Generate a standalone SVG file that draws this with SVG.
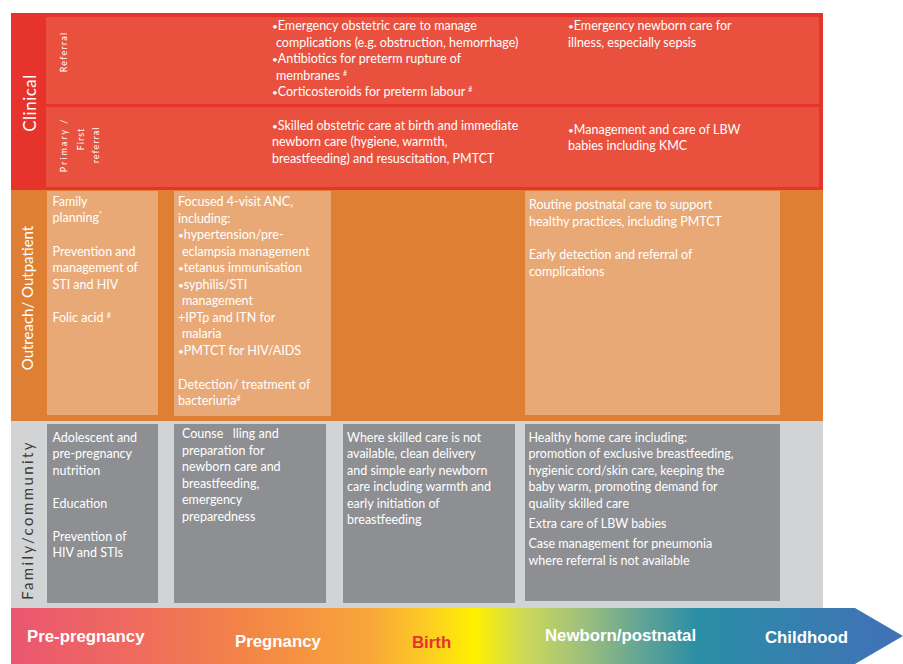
<svg xmlns="http://www.w3.org/2000/svg" width="903" height="664" viewBox="0 0 903 664">
<defs>
<linearGradient id="lifeGrad" gradientUnits="userSpaceOnUse" x1="11" y1="0" x2="903" y2="0">
<stop offset="0" stop-color="#ea5670"/>
<stop offset="0.14" stop-color="#ef6b5e"/>
<stop offset="0.26" stop-color="#f38447"/>
<stop offset="0.40" stop-color="#f8a53a"/>
<stop offset="0.47" stop-color="#fdcf22"/>
<stop offset="0.52" stop-color="#fff100"/>
<stop offset="0.575" stop-color="#cdd958"/>
<stop offset="0.64" stop-color="#9fc07c"/>
<stop offset="0.71" stop-color="#5fa396"/>
<stop offset="0.77" stop-color="#2a8ea5"/>
<stop offset="1" stop-color="#4270b8"/>
</linearGradient>
<style>
.t { font-family: Lato, "Liberation Sans", sans-serif; font-size: 12.5px; fill: #ffffff; }
.sup { font-size: 7px; }
.b { font-size: 10px; }
.rowlab { font-family: Lato, "Liberation Sans", sans-serif; fill: #ffffff; text-anchor: middle; }
.sub { font-family: Lato, "Liberation Sans", sans-serif; font-size: 9px; fill: #ffffff; text-anchor: middle; }
.stage { font-family: "Liberation Sans", Arial, sans-serif; font-size: 16.8px; font-weight: bold; fill: #ffffff; }
.redband { fill: #e6332c; }
.redbox { fill: #e9513e; }
.orband { fill: #de7f33; }
.orbox { fill: #e8a977; }
.gyband { fill: #d1d3d4; }
.gybox { fill: #8e8f93; }
</style>
</defs>

<!-- Clinical band -->
<g id="clinical">
<rect class="redband" x="11" y="13" width="812" height="177"/>
<text class="rowlab" font-size="17" letter-spacing="0.5" transform="translate(36,103) rotate(-90)">Clinical</text>
</g>
<g id="referral">
<rect class="redbox" x="46" y="17" width="773" height="87"/>
<text class="sub" letter-spacing="1.2" transform="translate(67,52) rotate(-90)">Referral</text>
<text class="t" x="272" y="30"><tspan class="b">•</tspan>Emergency obstetric care to manage</text>
<text class="t" x="276" y="46.5">complications (e.g. obstruction, hemorrhage)</text>
<text class="t" x="272" y="63"><tspan class="b">•</tspan>Antibiotics for preterm rupture of</text>
<text class="t" x="276" y="79.5">membranes <tspan class="sup" dy="-4">#</tspan></text>
<text class="t" x="272" y="96"><tspan class="b">•</tspan>Corticosteroids for preterm labour <tspan class="sup" dy="-4">#</tspan></text>
<text class="t" x="568" y="30"><tspan class="b">•</tspan>Emergency newborn care for</text>
<text class="t" x="568" y="46.5">illness, especially sepsis</text>
</g>
<g id="primary">
<rect class="redbox" x="46" y="107" width="773" height="80"/>
<text class="sub" letter-spacing="2" transform="translate(67,145) rotate(-90)">Primary /</text>
<text class="sub" letter-spacing="1" transform="translate(84,139) rotate(-90)">First</text>
<text class="sub" letter-spacing="1" transform="translate(99,145) rotate(-90)">referral</text>
<text class="t" x="272" y="129.5"><tspan class="b">•</tspan>Skilled obstetric care at birth and immediate</text>
<text class="t" x="272" y="146">newborn care (hygiene, warmth,</text>
<text class="t" x="272" y="162.5">breastfeeding) and resuscitation, PMTCT</text>
<text class="t" x="568" y="133.5"><tspan class="b">•</tspan>Management and care of LBW</text>
<text class="t" x="568" y="150">babies including KMC</text>
</g>

<!-- Outreach band -->
<g id="outreach">
<rect class="orband" x="11" y="190" width="812" height="231"/>
<text class="rowlab" font-size="15" transform="translate(33,298) rotate(-90)">Outreach/ Outpatient</text>
</g>
<g id="out-prepregnancy">
<rect class="orbox" x="47" y="191" width="111" height="224"/>
<text class="t" x="52.5" y="205.5">Family</text>
<text class="t" x="52.5" y="222">planning<tspan class="sup" dy="-5">*</tspan></text>
<text class="t" x="52.5" y="255.5">Prevention and</text>
<text class="t" x="52.5" y="272">management of</text>
<text class="t" x="52.5" y="288.5">STI and HIV</text>
<text class="t" x="52.5" y="321.5">Folic acid <tspan class="sup" dy="-4">#</tspan></text>
</g>
<g id="out-pregnancy">
<rect class="orbox" x="174" y="191" width="157" height="225"/>
<text class="t" x="178" y="206">Focused 4-visit ANC,</text>
<text class="t" x="178" y="222.5">including:</text>
<text class="t" x="178" y="239"><tspan class="b">•</tspan>hypertension/pre-</text>
<text class="t" x="182" y="255.5">eclampsia management</text>
<text class="t" x="178" y="272"><tspan class="b">•</tspan>tetanus immunisation</text>
<text class="t" x="178" y="288.5"><tspan class="b">•</tspan>syphilis/STI</text>
<text class="t" x="182" y="305">management</text>
<text class="t" x="178" y="321.5">+IPTp and ITN for</text>
<text class="t" x="182" y="338">malaria</text>
<text class="t" x="178" y="354.5"><tspan class="b">•</tspan>PMTCT for HIV/AIDS</text>
<text class="t" x="178" y="388.5">Detection/ treatment of</text>
<text class="t" x="178" y="405">bacteriuria<tspan class="sup" dy="-4">#</tspan></text>
</g>
<g id="out-postnatal">
<rect class="orbox" x="525" y="191" width="255" height="224"/>
<text class="t" x="529" y="209">Routine postnatal care to support</text>
<text class="t" x="529" y="225.5">healthy practices, including PMTCT</text>
<text class="t" x="529" y="259">Early detection and referral of</text>
<text class="t" x="529" y="275.5">complications</text>
</g>

<!-- Family/community band -->
<g id="family">
<rect class="gyband" x="11" y="421" width="812" height="187"/>
<text class="rowlab" font-size="15" letter-spacing="2.4" style="fill:#3a3a3a" transform="translate(33,520) rotate(-90)">Family/community</text>
</g>
<g id="fam-prepregnancy">
<rect class="gybox" x="47" y="424" width="111" height="179"/>
<text class="t" x="52.5" y="441.5">Adolescent and</text>
<text class="t" x="52.5" y="458">pre-pregnancy</text>
<text class="t" x="52.5" y="474.5">nutrition</text>
<text class="t" x="52.5" y="508">Education</text>
<text class="t" x="52.5" y="540.5">Prevention of</text>
<text class="t" x="52.5" y="557">HIV and STIs</text>
</g>
<g id="fam-pregnancy">
<rect class="gybox" x="174" y="424" width="152" height="179"/>
<text class="t" x="182" y="438" xml:space="preserve">Counse   lling and</text>
<text class="t" x="182" y="454.5">preparation for</text>
<text class="t" x="182" y="471">newborn care and</text>
<text class="t" x="182" y="487.5">breastfeeding,</text>
<text class="t" x="182" y="504">emergency</text>
<text class="t" x="182" y="520.5">preparedness</text>
</g>
<g id="fam-birth">
<rect class="gybox" x="343" y="424" width="172" height="179"/>
<text class="t" x="347" y="441.5">Where skilled care is not</text>
<text class="t" x="347" y="458">available, clean delivery</text>
<text class="t" x="347" y="474.5">and simple early newborn</text>
<text class="t" x="347" y="491">care including warmth and</text>
<text class="t" x="347" y="507.5">early initiation of</text>
<text class="t" x="347" y="524">breastfeeding</text>
</g>
<g id="fam-postnatal">
<rect class="gybox" x="525" y="424" width="255" height="177"/>
<text class="t" x="528.5" y="441.5">Healthy home care including:</text>
<text class="t" x="528.5" y="458">promotion of exclusive breastfeeding,</text>
<text class="t" x="528.5" y="474.5">hygienic cord/skin care, keeping the</text>
<text class="t" x="528.5" y="491">baby warm, promoting demand for</text>
<text class="t" x="528.5" y="507.5">quality skilled care</text>
<text class="t" x="528.5" y="528">Extra care of LBW babies</text>
<text class="t" x="528.5" y="548">Case management for pneumonia</text>
<text class="t" x="528.5" y="564.5">where referral is not available</text>
</g>

<!-- Life-stage arrow -->
<g id="lifestage-arrow">
<polygon points="11,608 855,608 903,636 855,664 11,664" fill="url(#lifeGrad)"/>
<text class="stage" x="27" y="641.5">Pre-pregnancy</text>
<text class="stage" x="235" y="646.5">Pregnancy</text>
<text class="stage" x="412" y="647.5" style="fill:#e6332c">Birth</text>
<text class="stage" x="545" y="640.5">Newborn/postnatal</text>
<text class="stage" x="765" y="642.5">Childhood</text>
</g>
</svg>
